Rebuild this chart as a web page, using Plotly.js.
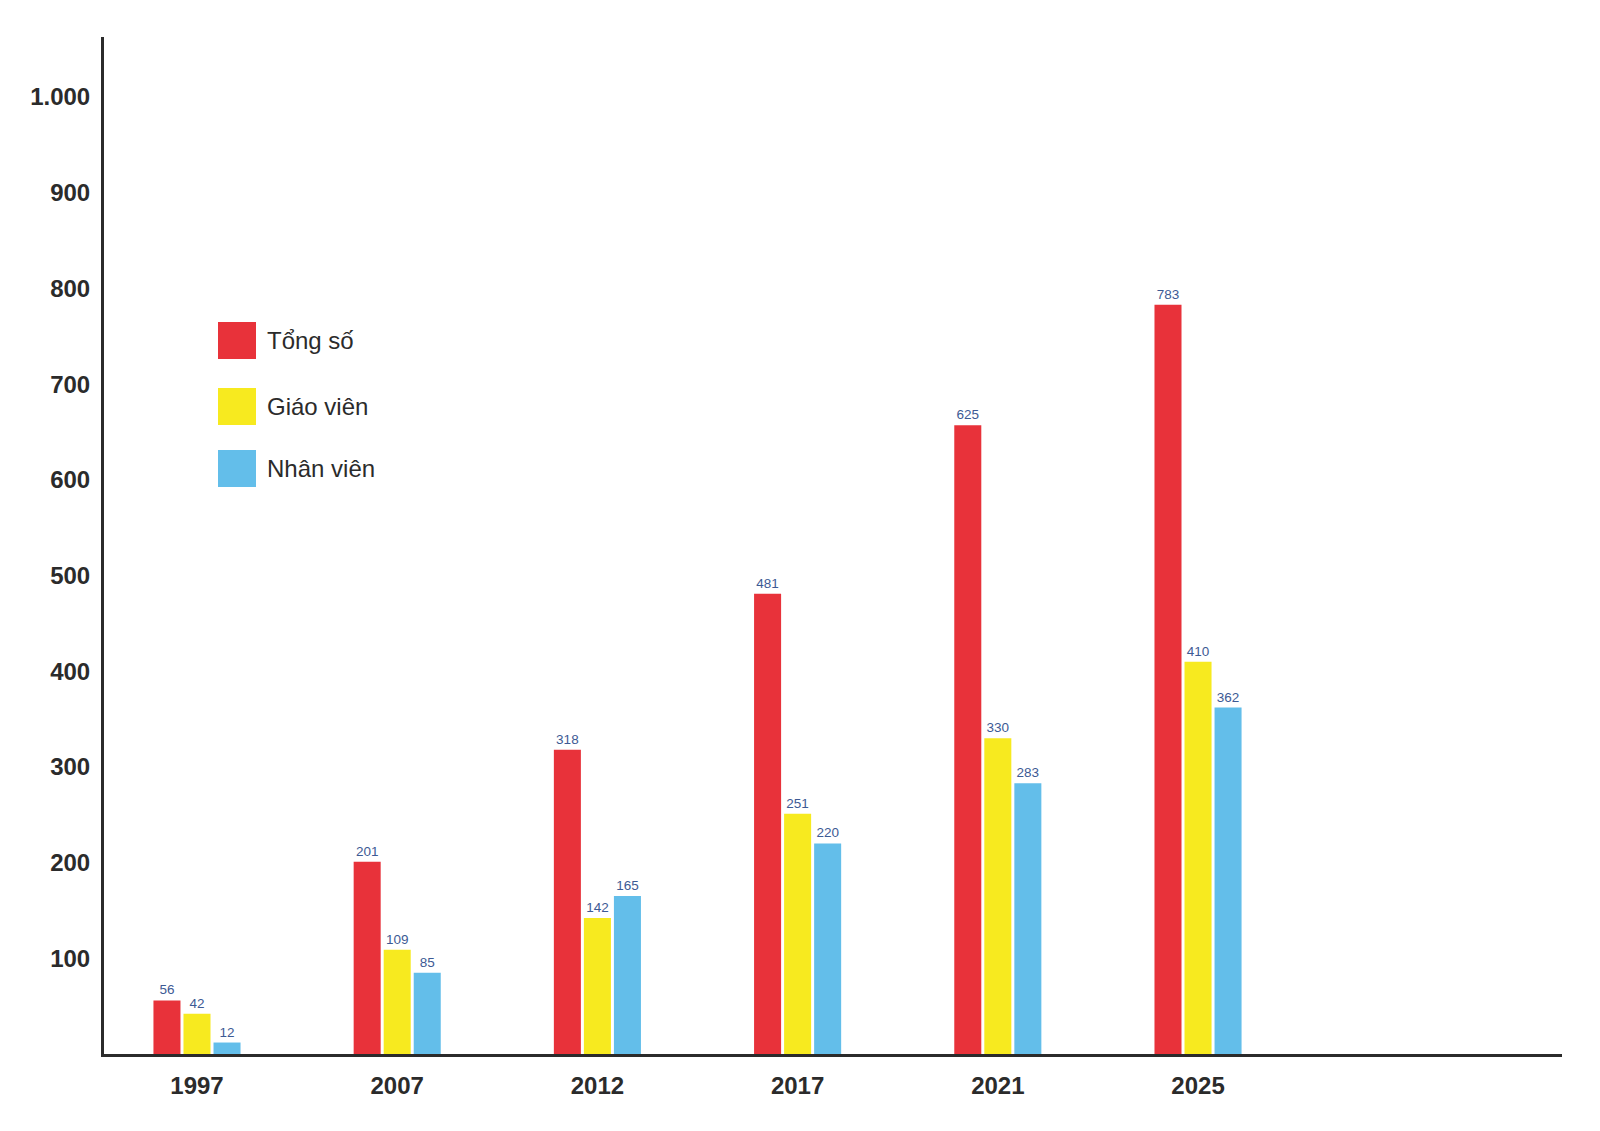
<!DOCTYPE html>
<html>
<head>
<meta charset="utf-8">
<script src="https://cdn.plot.ly/plotly-3.0.1.min.js"></script>
<style>html,body{margin:0;padding:0;background:#fff;}#chart{width:1600px;height:1131px;}</style>
</head>
<body>
<div id="chart"></div>
<script>
const years = ['1997', '2007', '2012', '2017', '2021', '2025'];
const seriesNames = ['Tổng số', 'Giáo viên', 'Nhân viên'];
// bar heights as drawn in the picture
const tongSo = [56, 201, 318, 481, 657, 783];
const giaoVien = [42, 109, 142, 251, 330, 410];
const nhanVien = [12, 85, 165, 220, 283, 362];
// printed value labels
const tongSoLabels = ['56', '201', '318', '481', '625', '783'];
const giaoVienLabels = ['42', '109', '142', '251', '330', '410'];
const nhanVienLabels = ['12', '85', '165', '220', '283', '362'];
const yTickVals = [100, 200, 300, 400, 500, 600, 700, 800, 900, 1000];
const yTickText = ['100', '200', '300', '400', '500', '600', '700', '800', '900', '1.000'];

const colors = ['#E8323A', '#F7EA1F', '#63BEEA'];
const values = [tongSo, giaoVien, nhanVien];
const labels = [tongSoLabels, giaoVienLabels, nhanVienLabels];

const traces = values.map((v, i) => ({
  type: 'bar',
  x: years,
  y: v,
  name: seriesNames[i],
  text: labels[i],
  textposition: 'outside',
  texttemplate: '%{text}',
  textfont: {family: 'Liberation Sans, Arial, sans-serif', size: 13.5, color: '#3d5a94'},
  marker: {color: colors[i], line: {width: 0}},
  cliponaxis: false,
  hoverinfo: 'skip'
}));

// plot area in pixels
const L = 104, R = 1562, T = 37, B = 1054;
const px = x => (x - L) / (R - L);
const py = y => (B - y) / (B - T);

const legendTops = [322, 388, 450];
const shapes = legendTops.map((t, i) => ({
  type: 'rect', xref: 'paper', yref: 'paper',
  x0: px(218), x1: px(256), y0: py(t + 37), y1: py(t),
  fillcolor: colors[i], line: {width: 0}
}));
const annotations = legendTops.map((t, i) => ({
  xref: 'paper', yref: 'paper', x: px(265), y: py(t + 18.5),
  xanchor: 'left', yanchor: 'middle', showarrow: false,
  text: seriesNames[i],
  font: {family: 'Liberation Sans, Arial, sans-serif', size: 24, color: '#2b2b2b'}
}));

const layout = {
  width: 1600, height: 1131,
  margin: {l: L, r: 1600 - R, t: T, b: 1131 - B, pad: 0},
  paper_bgcolor: '#ffffff', plot_bgcolor: '#ffffff',
  showlegend: false,
  barmode: 'group',
  bargap: 0.55,
  bargroupgap: 0.1,
  xaxis: {
    type: 'category',
    range: [-0.4645, 6.818],
    showline: true, linewidth: 3, linecolor: '#2b2b2b',
    showgrid: false, zeroline: false, ticks: '',
    ticklabelstandoff: 8,
    tickfont: {family: 'Liberation Sans, Arial, sans-serif', size: 24, color: '#2b2b2b', weight: 'bold'}
  },
  yaxis: {
    range: [0, 1062.7],
    tickvals: yTickVals, ticktext: yTickText,
    showline: true, linewidth: 3, linecolor: '#2b2b2b',
    showgrid: false, zeroline: false, ticks: '',
    ticklabelstandoff: 6,
    tickfont: {family: 'Liberation Sans, Arial, sans-serif', size: 24, color: '#2b2b2b', weight: 'bold'}
  },
  shapes: shapes,
  annotations: annotations
};

Plotly.newPlot('chart', traces, layout, {staticPlot: true, displayModeBar: false});
</script>
</body>
</html>
